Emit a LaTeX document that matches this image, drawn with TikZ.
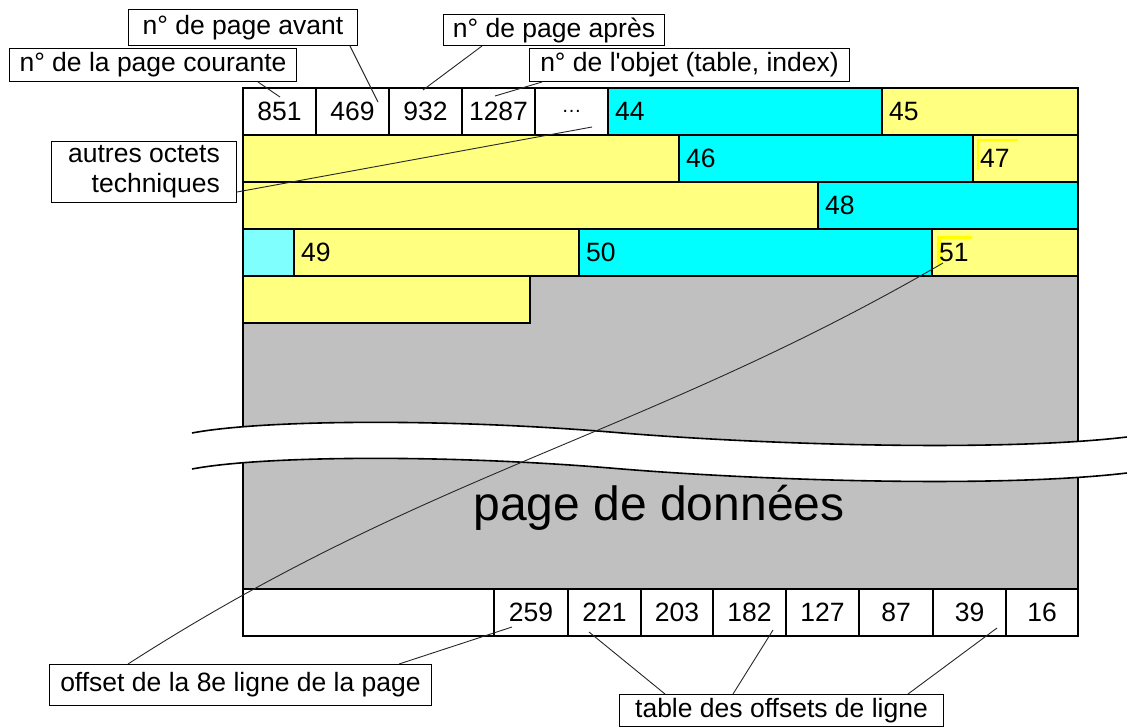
\documentclass[tikz,border=0pt]{standalone}
\usepackage{fontspec}
\setmainfont{Liberation Sans}
\usetikzlibrary{calc}
\definecolor{cya}{RGB}{0,255,255}
\definecolor{lcya}{RGB}{128,255,255}
\definecolor{yel}{RGB}{255,255,128}
\definecolor{hiyel}{RGB}{255,255,0}
\definecolor{gry}{RGB}{192,192,192}
\tikzset{
    cell/.style={draw, line width=1.6pt, minimum height=47, anchor=north west, inner sep=0pt, outer sep=0pt},
    num/.style={anchor=west, inner sep=0pt, xshift=7},
    callout/.style={draw, fill=white, line width=1pt, anchor=north west, inner xsep=3pt, inner ysep=0pt},
    link/.style={draw=black!85, line width=0.9pt}
}

\begin{document}
\begin{tikzpicture}[x=1pt, y=-1pt, font=\fontsize{26.5}{30}\selectfont]
    \useasboundingbox (0,0) rectangle (1127,726);
    \fill[gry] (243,276) rectangle (1078,589);
    % en-tete de page
    \foreach \x/\t [count=\i] in {243/851, 316/469, 389/932, 462/1287, 535/{\fontsize{20}{24}\selectfont …}}
        \node[cell, fill=white, minimum width=73] (h\i) at (\x,88) {\t};
    % lignes de la page
    \foreach \x/\y/\w/\c [count=\i] in {608/88/274/cya, 882/88/196/yel, 243/135/436/yel, 679/135/294/cya, 973/135/105/yel,
                                        243/182/575/yel, 818/182/260/cya, 243/229/51/lcya, 294/229/285/yel, 579/229/353/cya,
                                        932/229/146/yel, 243/276/287/yel}
        \node[cell, fill=\c, minimum width=\w] (r\i) at (\x,\y) {};
    \fill[hiyel] (977,139) rectangle (1018,141) (977,139) rectangle (979,170)
                 (937,236) rectangle (972,239) (937,236) rectangle (941,266);
    \foreach \i/\t in {1/44, 2/45, 4/46, 5/47, 7/48, 9/49, 10/50, 11/51}
        \node[num] (n\t) at (r\i.west) {\t};
    % table des offsets
    \foreach \x/\w/\t [count=\i] in {243/251/{}, 494/74/259, 568/73/221, 641/72/203, 713/73/182, 786/73/127, 859/74/87, 933/73/39, 1006/72/16}
        \node[cell, fill=white, minimum width=\w] (o\i) at (\x,589) {\t};
    \draw[line width=1.6pt] (h1.north west) rectangle (o9.south east);
    % coupure
    \fill[white] (192,433) .. controls (260,420) and (440,418) .. (610,432) .. controls (763,445) and (1000,452) .. (1127,437)
        -- (1127,473) .. controls (1000,488) and (763,481) .. (610,468) .. controls (440,454) and (260,456) .. (192,469) -- cycle;
    \foreach \dy in {0,36}
        \draw[line width=1.6pt, yshift=-\dy] (192,433) .. controls (260,420) and (440,418) .. (610,432) .. controls (763,445) and (1000,452) .. (1127,437);
    \node (title) at (659,508) {\fontsize{48}{56}\selectfont page de données};

    \node[callout, minimum width=229, minimum height=36] (lavant) at (128,9) {n° de page avant};
    \node[callout, minimum width=287, minimum height=33] (lcour) at (9,48) {n° de la page courante};
    \node[callout, minimum width=221, minimum height=31] (lapres) at (443,14) {n° de page après};
    \node[callout, minimum width=320, minimum height=33] (lobjet) at (529,48) {n° de l\textquotesingle objet (table, index)};
    \node[callout, minimum width=185, minimum height=61, align=right] (lautres) at (51,141) {autres octets\\techniques};
    \node[callout, minimum width=382, minimum height=41] (loffset) at (49,664) {offset de la 8e ligne de la page};
    \node[callout, minimum width=324, minimum height=32] (ltable) at (619,694) {table des offsets de ligne};

    \coordinate (e851) at (280,97);
    \coordinate (e469) at (378,102);
    \coordinate (e932) at (423,90);
    \coordinate (e1287) at (495,96);
    \coordinate (edots) at (592,127);
    \coordinate (e51) at (943,263);
    \coordinate (e259) at (512,627);
    \coordinate (e221) at (589,632);
    \coordinate (e182) at (773,630);
    \coordinate (e39) at (997,628);
    \draw[link]
        ([xshift=-39]lcour.south east) -- (e851)
        ([xshift=-8]lavant.south east) -- (e469)
        ([xshift=39]lapres.south west) -- (e932)
        ([xshift=13]lobjet.south west) -- (e1287)
        ([yshift=-20]lautres.east) -- (edots)
        ([xshift=79]loffset.north west) .. controls (428,471) and (643,437) .. (e51)
        ([xshift=-33]loffset.north east) -- (e259)
        ([xshift=46]ltable.north west) -- (e221)
        ([xshift=114]ltable.north west) -- (e182)
        ([xshift=-36]ltable.north east) -- (e39);
\end{tikzpicture}
\end{document}
